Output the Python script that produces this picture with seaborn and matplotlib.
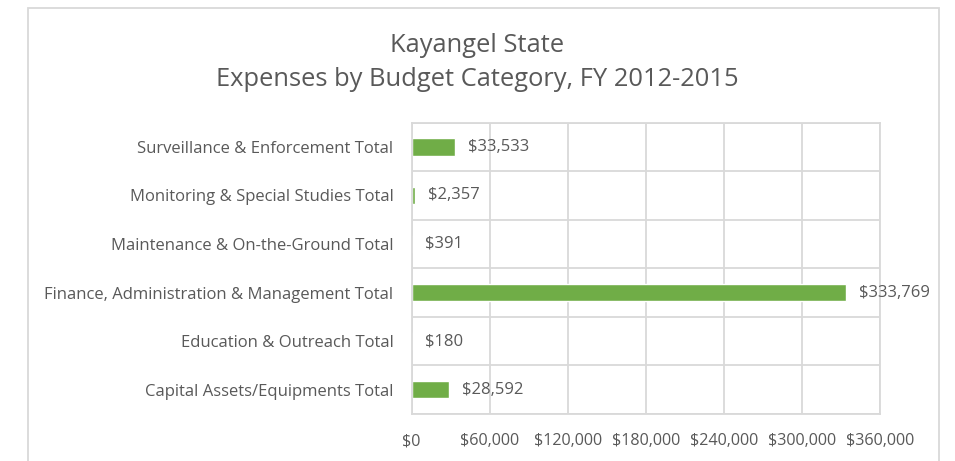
import matplotlib.pyplot as plt
import seaborn as sns
import pandas as pd
import numpy as np
from matplotlib.patches import Rectangle
from matplotlib.ticker import FuncFormatter, MultipleLocator, FixedLocator

categories = [
    "Surveillance & Enforcement Total",
    "Monitoring & Special Studies Total",
    "Maintenance & On-the-Ground Total",
    "Finance, Administration & Management Total",
    "Education & Outreach Total",
    "Capital Assets/Equipments Total",
]
expenses = [33533, 2357, 391, 333769, 180, 28592]
title_lines = ["Kayangel State", "Expenses by Budget Category, FY 2012-2015"]

df = pd.DataFrame({"category": categories, "expense": expenses})

sns.set_style("white")
plt.rcParams["font.family"] = ["Open Sans", "DejaVu Sans"]
text_col = "#595959"
grid_col = "#D9D9D9"

W, H = 955, 461
fig = plt.figure(figsize=(W / 100, H / 100), dpi=100)
ax = fig.add_axes([411.5 / W, 1 - 414 / H, (880 - 411.5) / W, (414 - 122.5) / H])

sns.barplot(data=df, x="expense", y="category", color="#70AD47", width=0.36,
            saturation=1, ax=ax, orient="h")

ax.set_xlim(0, 360000)
ax.set_ylim(len(categories) - 0.5, -0.5)
ax.xaxis.set_major_locator(MultipleLocator(60000))
ax.xaxis.set_major_formatter(FuncFormatter(lambda v, p: "${:,.0f}".format(v)))
ax.yaxis.set_minor_locator(FixedLocator(np.arange(-0.5, len(categories), 1)))
ax.grid(axis="x", which="major", color=grid_col, linewidth=1.3)
ax.grid(axis="y", which="minor", color=grid_col, linewidth=1.3)
ax.set_axisbelow(True)
for s in ax.spines.values():
    s.set_color(grid_col)
    s.set_linewidth(1.3)
ax.tick_params(axis="both", which="both", length=0, colors=text_col)
ax.tick_params(axis="y", pad=13, labelsize=12)
ax.tick_params(axis="x", pad=14, labelsize=11.6)
ax.set_xlabel("")
ax.set_ylabel("")

for i, v in enumerate(expenses):
    ax.annotate("${:,.0f}".format(v), (v, i), xytext=(13, 0), textcoords="offset pixels",
                va="center", ha="left", fontsize=12, color=text_col)

fig.text(0.5, 1 - 45 / H, title_lines[0], ha="center", va="center", fontsize=18.4, color=text_col)
fig.text(0.5, 1 - 80 / H, title_lines[1], ha="center", va="center", fontsize=18.4, color=text_col)

fig.patches.append(Rectangle((28 / W, -0.05), (939 - 28) / W, 1.05 - 8.5 / H,
                             transform=fig.transFigure, fill=False,
                             edgecolor=grid_col, linewidth=1.3))

fig.savefig("out.png", dpi=100, facecolor="white")
